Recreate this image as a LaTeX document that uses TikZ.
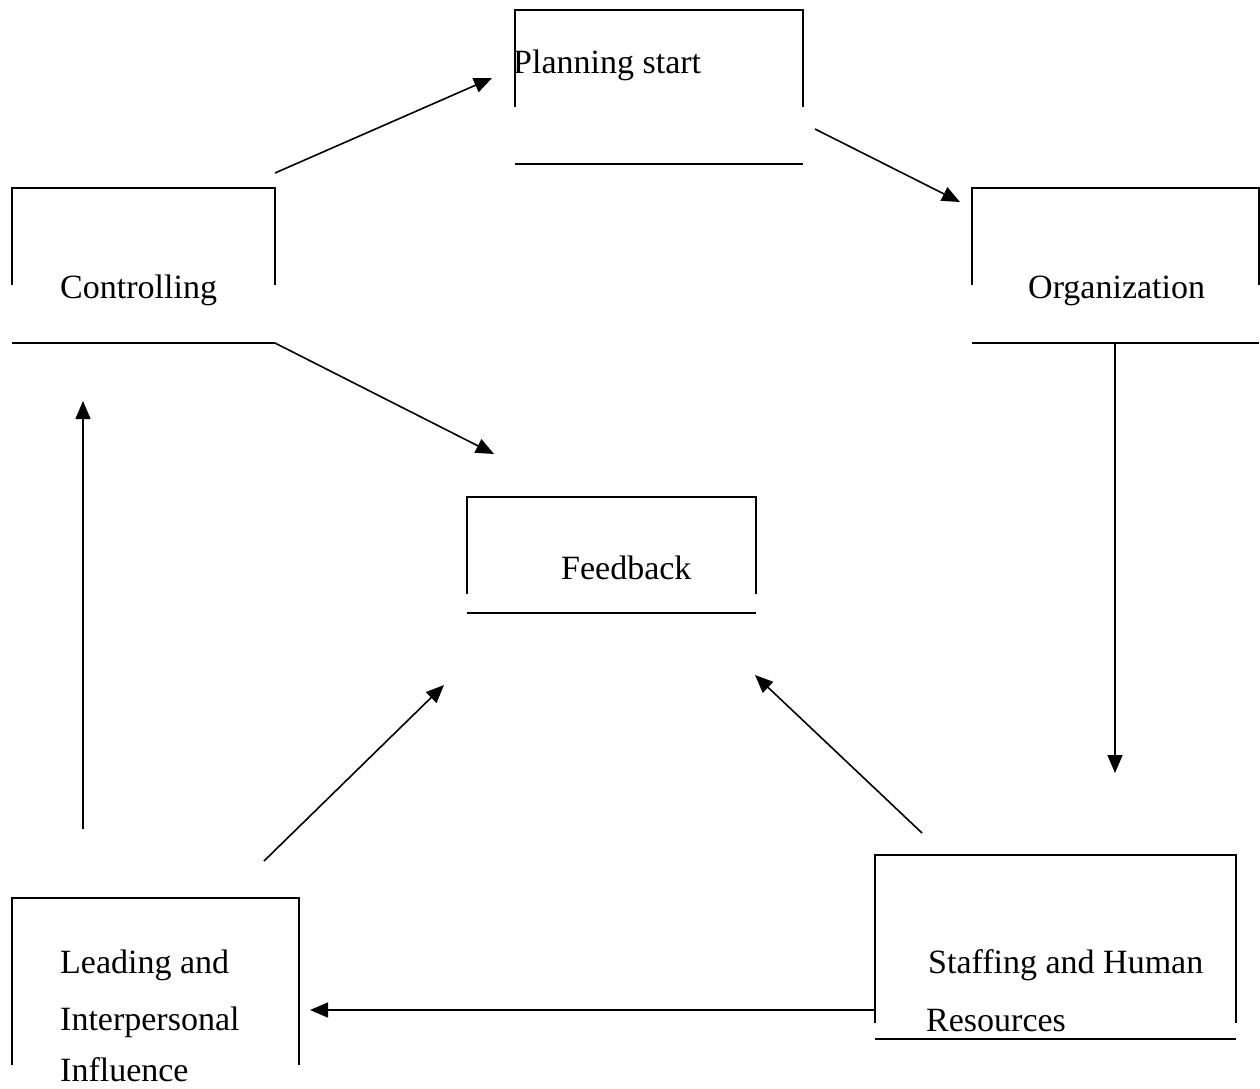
\documentclass[tikz,border=0pt]{standalone}
\usepackage{fontspec}
\setmainfont{Liberation Serif}
\usetikzlibrary{arrows.meta}
\definecolor{ink}{HTML}{000000}
\tikzset{
  frame/.style={draw=ink, line width=2pt},
  flow/.style={draw=ink, line width=1.6pt, -{Triangle[length=18pt,width=15pt]}},
  lab/.style={text=ink, anchor=base west, inner sep=0pt, font=\fontsize{34}{40}\selectfont}
}

\begin{document}
\begin{tikzpicture}[x=1pt, y=-1pt]
  \useasboundingbox (0,0) rectangle (1260,1088);
  % boxes
  \draw[frame] (515,107) -- (515,10) -- (803,10) -- (803,107);
  \draw[frame] (515,164) -- (803,164);
  \draw[frame] (12,285) -- (12,188) -- (275,188) -- (275,285);
  \draw[frame] (12,343) -- (275,343);
  \draw[frame] (972,285) -- (972,188) -- (1259,188) -- (1259,285);
  \draw[frame] (972,343) -- (1259,343);
  \draw[frame] (467,594) -- (467,497) -- (756,497) -- (756,594);
  \draw[frame] (467,613) -- (756,613);
  \draw[frame] (12,1065) -- (12,898) -- (299,898) -- (299,1065);
  \draw[frame] (875,1023) -- (875,855) -- (1236,855) -- (1236,1023);
  \draw[frame] (875,1039) -- (1236,1039);
  % labels
  \node[lab] (plan) at (513,73) {Planning start};
  \node[lab] (ctrl) at (60,298) {Controlling};
  \node[lab] (org) at (1028,298) {Organization};
  \node[lab] (feed) at (561,579) {Feedback};
  \node[lab] (lead1) at (60,973) {Leading and};
  \node[lab] (lead2) at (60,1030) {Interpersonal};
  \node[lab] (lead3) at (60,1081) {Influence};
  \node[lab] (staff1) at (928,973) {Staffing and Human};
  \node[lab] (staff2) at (926,1031) {Resources};
  % arrow ends
  \coordinate (ctrlA) at (275,173);
  \coordinate (planA) at (492,78);
  \coordinate (planB) at (815,129);
  \coordinate (orgA) at (960,202);
  \coordinate (orgB) at (1115,343);
  \coordinate (staffA) at (1115,773);
  \coordinate (staffB) at (875,1010);
  \coordinate (leadA) at (310,1010);
  \coordinate (leadB) at (83,829);
  \coordinate (ctrlB) at (83,401);
  \coordinate (ctrlC) at (275,343);
  \coordinate (feedA) at (494,454);
  \coordinate (leadC) at (264,861);
  \coordinate (feedB) at (444,685);
  \coordinate (staffC) at (922,833);
  \coordinate (feedC) at (755,675);
  \draw[flow] (ctrlA) -- (planA);
  \draw[flow] (planB) -- (orgA);
  \draw[flow] (orgB) -- (staffA);
  \draw[flow] (staffB) -- (leadA);
  \draw[flow] (leadB) -- (ctrlB);
  \draw[flow] (ctrlC) -- (feedA);
  \draw[flow] (leadC) -- (feedB);
  \draw[flow] (staffC) -- (feedC);
\end{tikzpicture}
\end{document}
